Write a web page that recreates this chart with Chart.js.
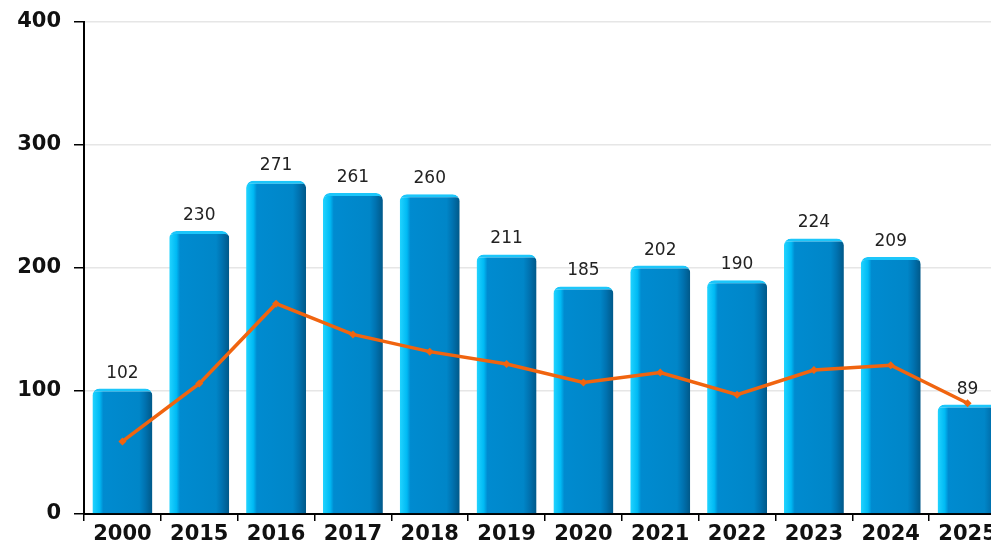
<html><head><meta charset="utf-8">
<script src="https://cdn.jsdelivr.net/npm/chart.js@4.4.0/dist/chart.umd.min.js"></script>
<style>
 body { margin:0; overflow:hidden; background:#fff; }
 #wrap { width:1010px; height:550px; }
</style>
</head>
<body>
<div id="wrap"><canvas id="myChart" width="1010" height="550"></canvas></div>
<script>
var years = ['2000','2015','2016','2017','2018','2019','2020','2021','2022','2023','2024','2025'];
var barValues = [102,230,271,261,260,211,185,202,190,224,209,89];
var lineValues = [59,106,171,146,132,122,107,115,97,117,121,90];
var yTicks = [0,100,200,300,400];

function barFill(context) {
  var chart = context.chart;
  var x = chart.scales.x;
  if (!x || context.dataIndex === undefined) return '#0088cc';
  var cx = x.getPixelForValue(context.dataIndex);
  if (!isFinite(cx)) return '#0088cc';
  var half = 30;
  var g = chart.ctx.createLinearGradient(cx - half, 0, cx + half, 0);
  g.addColorStop(0, '#22d4ff');
  g.addColorStop(0.12, '#00baf4');
  g.addColorStop(0.18, '#008bd0');
  g.addColorStop(0.78, '#0086c8');
  g.addColorStop(0.88, '#0072b0');
  g.addColorStop(1, '#005888');
  return g;
}

var valueLabels = {
  id: 'valueLabels',
  afterDatasetsDraw: function(chart) {
    var ctx = chart.ctx;
    var meta = chart.getDatasetMeta(1);
    ctx.save();
    ctx.font = '17px "DejaVu Sans"';
    ctx.fillStyle = '#222';
    ctx.textAlign = 'center';
    ctx.textBaseline = 'alphabetic';
    meta.data.forEach(function(el, i) {
      ctx.fillText(barValues[i], el.x, el.y - 11);
    });
    ctx.restore();
  }
};

var ctx = document.getElementById('myChart');
var myChart = new Chart(ctx, {
  type: 'bar',
  data: {
    labels: years,
    datasets: [{
      type: 'line',
      data: lineValues,
      borderColor: '#f0640f',
      backgroundColor: '#f0640f',
      borderWidth: 3.5,
      pointStyle: 'rectRot',
      pointRadius: 4,
      pointBackgroundColor: '#f0640f',
      pointBorderWidth: 0,
      tension: 0,
      order: 0
    }, {
      type: 'bar',
      data: barValues,
      backgroundColor: barFill,
      borderColor: '#1cc6fa',
      borderWidth: { top: 3, left: 0, right: 0, bottom: 0 },
      borderRadius: { topLeft: 7, topRight: 7, bottomLeft: 0, bottomRight: 0 },
      borderSkipped: 'bottom',
      categoryPercentage: 1,
      barPercentage: 0.78,
      order: 1
    }]
  },
  options: {
    responsive: false,
    animation: false,
    layout: { padding: { top: 22, right: 4, left: 0, bottom: 0 } },
    plugins: { legend: { display: false }, tooltip: { enabled: false } },
    scales: {
      x: {
        afterFit: function(s) { s.height = 36; s.paddingLeft = 0; s.paddingRight = 0; },
        grid: { display: true, drawOnChartArea: false, offset: true, tickLength: 7, tickColor: '#000', lineWidth: 1.5 },
        border: { color: '#000', width: 2 },
        ticks: { color: '#111', font: { family: 'DejaVu Sans', size: 21, weight: 'bold' }, padding: 1, maxRotation: 0, autoSkip: false }
      },
      y: {
        min: 0, max: 400,
        afterFit: function(s) { s.width = 84; s.paddingTop = 0; s.paddingBottom = 0; },
        afterBuildTicks: function(s) { s.ticks = yTicks.map(function(v) { return { value: v }; }); },
        grid: { color: '#e6e6e6', lineWidth: 1.5, tickLength: 10, tickColor: '#000' },
        border: { color: '#000', width: 2 },
        ticks: { color: '#111', font: { family: 'DejaVu Sans', size: 21, weight: 'bold' }, padding: 13 }
      }
    }
  },
  plugins: [valueLabels]
});
</script>
</body></html>
